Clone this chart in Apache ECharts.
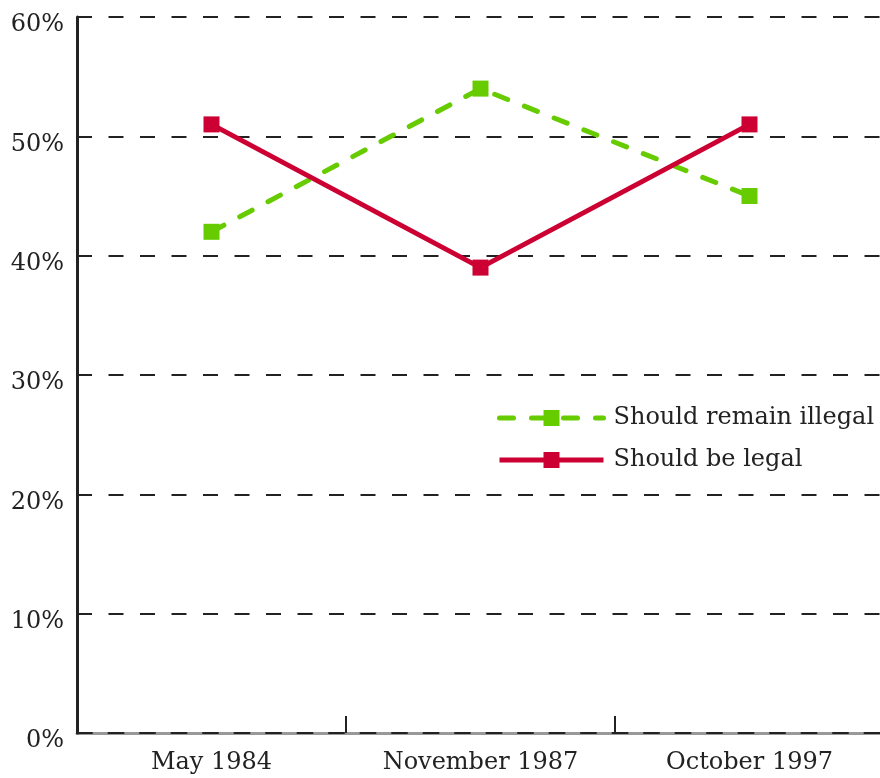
<!DOCTYPE html>
<html>
<head>
<meta charset="utf-8">
<script src="https://cdn.jsdelivr.net/npm/echarts@6/dist/echarts.min.js"></script>
<style>
  html, body { margin: 0; padding: 0; background: #fff; }
  #chart { width: 880px; height: 778px; }
</style>
</head>
<body>
<div id="chart"></div>
<script>
  var categories = ['May 1984', 'November 1987', 'October 1997']
  var remainIllegal = [42, 54, 45]
  var beLegal = [51, 39, 51]
  var yTicks = [0, 10, 20, 30, 40, 50, 60]

  var font = 'DejaVu Serif'
  var dash = [15, 16.5]
  var chart = echarts.init(document.getElementById('chart'))
  var option = {
    animation: false,
    textStyle: { fontFamily: font },
    grid: { left: 77, top: 17, right: -4, bottom: 45, outerBoundsMode: 'none' },
    legend: {
      orient: 'vertical',
      left: 492,
      top: 401,
      itemWidth: 104,
      itemHeight: 20,
      itemGap: 18,
      lineStyle: { width: 5 },
      textStyle: { fontFamily: font, fontSize: 24, color: '#222', padding: [0, 0, 0, 5] },
      data: ['Should remain illegal', 'Should be legal']
    },
    xAxis: [
      {
        type: 'category',
        data: categories,
        axisLine: { lineStyle: { color: '#999', width: 3 } },
        axisTick: { show: true, interval: 0, inside: true, length: 17, lineStyle: { color: '#222', width: 2 } },
        axisLabel: { fontFamily: font, fontSize: 24, color: '#222', margin: 18 },
        z: 1
      },
      {
        // dashed grid line lying on top of the grey axis line
        type: 'category',
        position: 'bottom',
        data: categories,
        axisLine: { lineStyle: { color: '#222', width: 2, type: dash } },
        axisTick: { show: false },
        axisLabel: { show: false },
        z: 2
      }
    ],
    yAxis: {
      type: 'value',
      min: yTicks[0],
      max: yTicks[yTicks.length - 1],
      interval: 10,
      axisLine: { show: true, lineStyle: { color: '#222', width: 3 } },
      axisTick: { show: false },
      axisLabel: {
        formatter: function (v) { return '{a|' + v + '%}' },
        margin: 13,
        rich: { a: { fontFamily: font, fontSize: 24, color: '#222', padding: [16, 0, 0, 0] } }
      },
      splitLine: { lineStyle: { color: '#222', width: 2, type: dash } },
      z: 3
    },
    series: [
      {
        name: 'Should remain illegal',
        type: 'line',
        data: remainIllegal,
        symbol: 'rect',
        symbolSize: 16,
        itemStyle: { color: '#66cc00' },
        lineStyle: { color: '#66cc00', width: 5, type: [14, 18], cap: 'round' },
        z: 3
      },
      {
        name: 'Should be legal',
        type: 'line',
        data: beLegal,
        symbol: 'rect',
        symbolSize: 16,
        itemStyle: { color: '#cc0033' },
        lineStyle: { color: '#cc0033', width: 5 },
        z: 4
      }
    ]
  }
  chart.setOption(option)
</script>
</body>
</html>
